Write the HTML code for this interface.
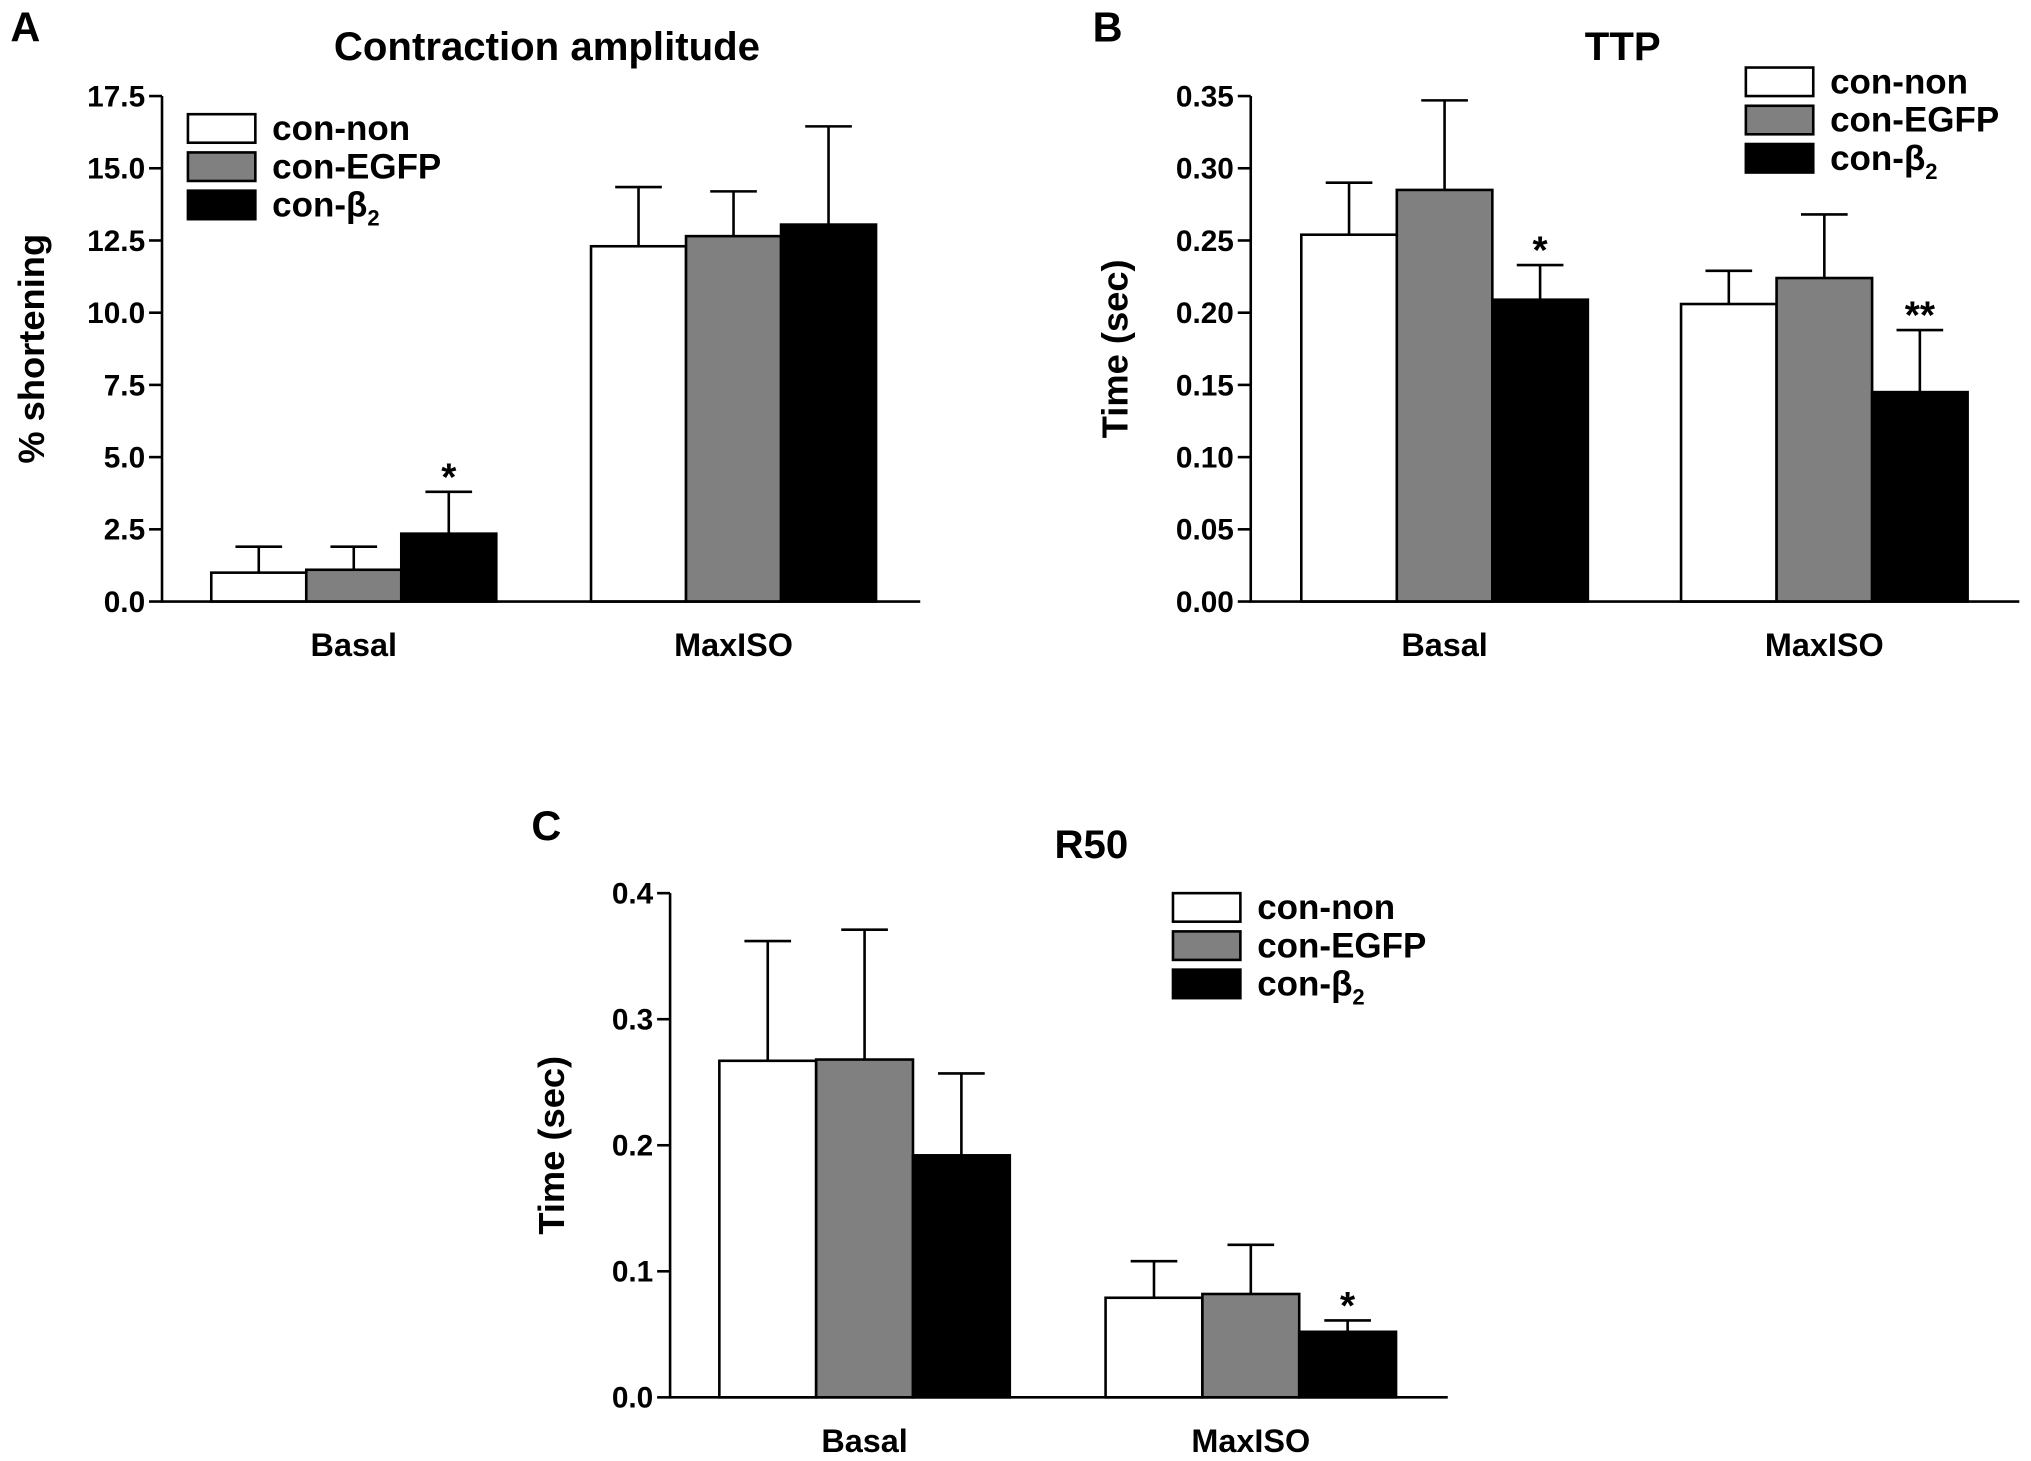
<!DOCTYPE html>
<html><head><meta charset="utf-8"><style>
html,body{margin:0;padding:0;background:#fff}
svg{display:block}
text{font-family:"Liberation Sans","DejaVu Sans",sans-serif;font-weight:bold;fill:#000}
</style></head><body>
<svg id="chart" width="2031" height="1461" viewBox="0 0 1567 1127" xmlns="http://www.w3.org/2000/svg"></svg>
<script>
const groups = ["Basal", "MaxISO"];
const seriesNames = ["con-non", "con-EGFP", "con-β2"];
const aMeans = [[1.0, 1.1, 2.35], [12.3, 12.65, 13.05]];
const aErr = [[1.9, 1.9, 3.8], [14.35, 14.2, 16.45]];
const aStars = [["", "", "*"], ["", "", ""]];
const aTicks = ["0.0","2.5","5.0","7.5","10.0","12.5","15.0","17.5"];
const bMeans = [[0.254, 0.285, 0.209], [0.206, 0.224, 0.145]];
const bErr = [[0.290, 0.347, 0.233], [0.229, 0.268, 0.188]];
const bStars = [["", "", "*"], ["", "", "**"]];
const bTicks = ["0.00","0.05","0.10","0.15","0.20","0.25","0.30","0.35"];
const cMeans = [[0.267, 0.268, 0.192], [0.079, 0.082, 0.052]];
const cErr = [[0.362, 0.371, 0.257], [0.108, 0.121, 0.061]];
const cStars = [["", "", ""], ["", "", "*"]];
const cTicks = ["0.0","0.1","0.2","0.3","0.4"];
const colors = ["#ffffff", "#808080", "#000000"];
const NS = "http://www.w3.org/2000/svg";
const svg = document.getElementById("chart");
function mk(tag, attrs, parent, text) {
  const e = document.createElementNS(NS, tag);
  for (const k in attrs) e.setAttribute(k, attrs[k]);
  if (text !== undefined) e.textContent = text;
  (parent || svg).appendChild(e);
  return e;
}
function panel(cfg) {
  const g = mk("g", {});
  
  
  const ymax = parseFloat(cfg.ticks[cfg.ticks.length - 1]);
  const y = v => cfg.y0 - (v / ymax) * (cfg.y0 - cfg.y1);
  const t1 = mk("text", {x: cfg.letterX, y: cfg.letterY, "font-size": 32}, g, cfg.letter);
  
  
  const t2 = mk("text", {x: cfg.titleX, y: cfg.titleY, "font-size": 31, "text-anchor": "middle"}, g, cfg.title);
  
  
  const yt = mk("text", {x: 0, y: 0, "font-size": 28, "text-anchor": "middle", transform: `translate(${cfg.ytX},${(cfg.y0 + cfg.y1) / 2}) rotate(-90)`}, g, cfg.ytitle);
  
  
  groups.forEach((gn, gi) => {
    for (let s = 0; s < 3; s++) {
      const x0 = cfg.groupX[gi] + s * cfg.bw;
      const top = y(cfg.means[gi][s]);
      const r = mk("rect", {x: x0, y: top, width: cfg.bw, height: cfg.y0 - top, fill: colors[s], stroke: "#000", "stroke-width": 2}, g);
      
      
      const cx = x0 + cfg.bw / 2, et = y(cfg.err[gi][s]);
      const e = mk("path", {d: `M${cx},${top}V${et}M${cx - 18},${et}H${cx + 18}`, stroke: "#000", "stroke-width": 2, fill: "none"}, g);
      
      
      if (cfg.stars[gi][s]) {
        const st = mk("text", {x: cx, y: et - 1, "font-size": 30, "text-anchor": "middle"}, g, cfg.stars[gi][s]);
        
        
      }
    }
    const gl = mk("text", {x: cfg.groupX[gi] + 1.5 * cfg.bw, y: cfg.y0 + 42, "font-size": 25, "text-anchor": "middle"}, g, gn);
    
    
  });
  const ax = mk("path", {d: `M${cfg.ax},${cfg.y1}V${cfg.y0}H${cfg.xEnd}`, stroke: "#000", "stroke-width": 2, fill: "none"}, g);
  
  
  cfg.ticks.forEach(t => {
    const ty = y(parseFloat(t));
    mk("line", {x1: cfg.ax - 10, x2: cfg.ax, y1: ty, y2: ty, stroke: "#000", "stroke-width": 2}, g);
    const tl = mk("text", {x: cfg.ax - 13, y: ty + 8, "font-size": 23, "text-anchor": "end"}, g, t);
    
    
  });
  seriesNames.forEach((n, i) => {
    const ly = cfg.legY + i * 29.5;
    const lr = mk("rect", {x: cfg.legX, y: ly, width: 52, height: 22, fill: colors[i], stroke: "#000", "stroke-width": 2}, g);
    
    
    const lt = mk("text", {x: cfg.legX + 65, y: ly + 20, "font-size": 27}, g);
    
    
    if (i === 2) {
      mk("tspan", {}, lt, "con-β");
      mk("tspan", {"font-size": 17, dy: 7}, lt, "2");
    } else lt.textContent = n;
  });
}
panel({name:"panel-a", letter:"A", letterX:8, letterY:32, title:"Contraction amplitude", titleX:422, titleY:46, ytitle:"% shortening", ytX:34,
  ticks:aTicks, means:aMeans, err:aErr, stars:aStars, ax:125, y0:464, y1:74, xEnd:710, groupX:[163,456], bw:73.3, legX:145, legY:88});
panel({name:"panel-b", letter:"B", letterX:843, letterY:32, title:"TTP", titleX:1252, titleY:46, ytitle:"Time (sec)", ytX:870,
  ticks:bTicks, means:bMeans, err:bErr, stars:bStars, ax:965, y0:464, y1:74, xEnd:1558, groupX:[1004,1297], bw:73.7, legX:1347, legY:52});
panel({name:"panel-c", letter:"C", letterX:410, letterY:648, title:"R50", titleX:842, titleY:662, ytitle:"Time (sec)", ytX:435,
  ticks:cTicks, means:cMeans, err:cErr, stars:cStars, ax:517, y0:1078, y1:689, xEnd:1117, groupX:[555,853], bw:74.7, legX:905, legY:689});
</script>
</body></html>
